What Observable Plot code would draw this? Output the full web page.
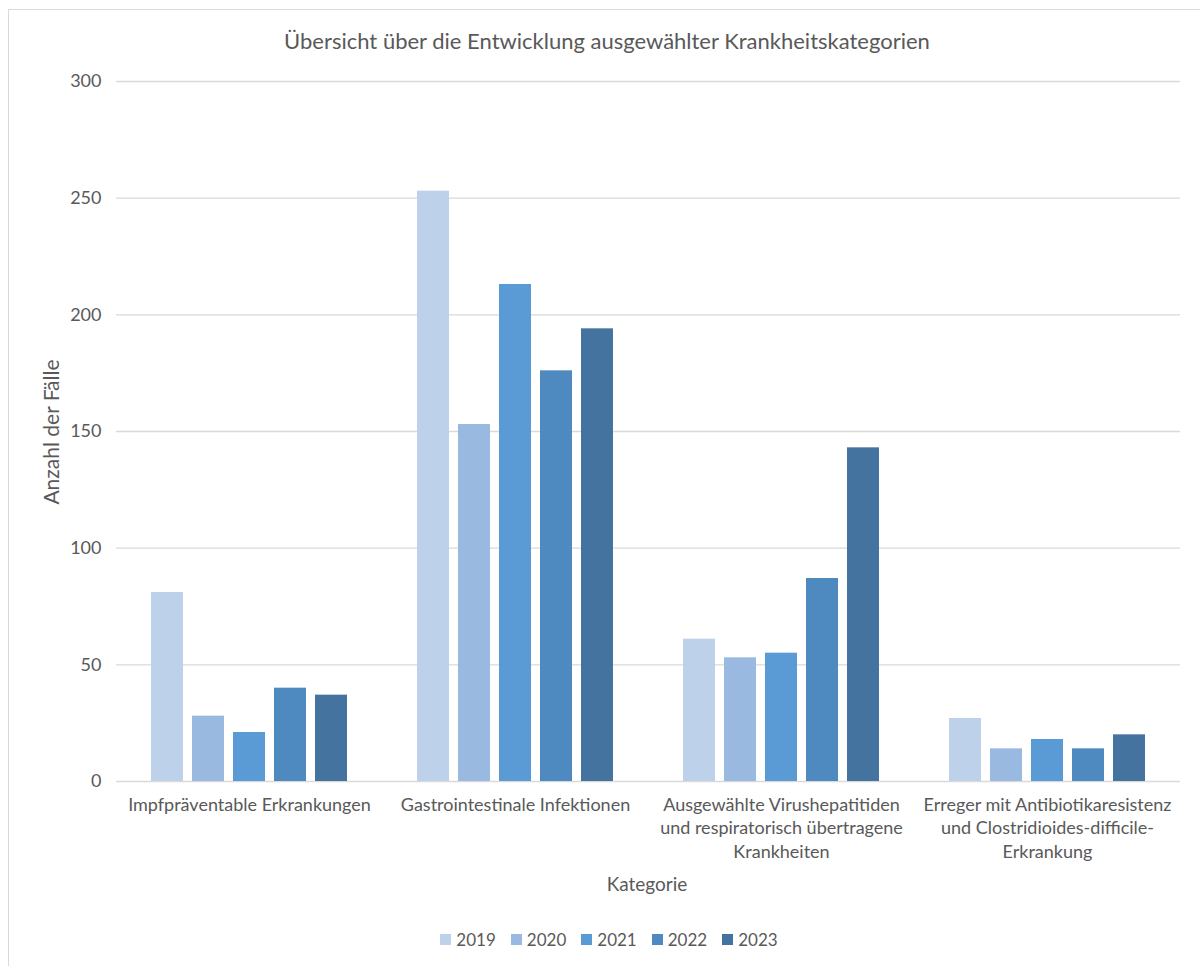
<!DOCTYPE html>
<html>
<head>
<meta charset="utf-8">
<script src="https://cdn.jsdelivr.net/npm/d3@7"></script>
<script src="https://cdn.jsdelivr.net/npm/@observablehq/plot@0.6"></script>
<style>
  html, body { margin: 0; padding: 0; background: #fff; }
  #wrap { position: relative; width: 1200px; height: 966px; overflow: hidden; font-family: Lato, "Open Sans", sans-serif; color: #595959; }
  #frame { position: absolute; left: 8px; top: 9px; width: 1300px; height: 1000px; border-left: 1.5px solid #d9d9d9; border-top: 1.5px solid #d9d9d9; }
  #title { position: absolute; top: 27px; left: 0; width: 1214px; text-align: center; font-size: 22px; line-height: 28px; }
  #chart { position: absolute; top: 0; left: 0; }
  #ylabel { position: absolute; left: 50px; top: 432px; transform: translate(-50%, -50%) rotate(-90deg); font-size: 21px; white-space: nowrap; }
  #xlabel { position: absolute; top: 872px; left: 647px; transform: translateX(-50%); font-size: 19px; white-space: nowrap; }
  #legend { position: absolute; top: 929px; left: 0; width: 1218px; display: flex; justify-content: center; font-size: 17px; }
  .item { display: flex; align-items: center; margin: 0 7.5px; }
  .sw { width: 11px; height: 11px; margin-right: 5px; }
</style>
</head>
<body>
<div id="wrap">
  <div id="frame"></div>
  <div id="chart"></div>
  <div id="title">Übersicht über die Entwicklung ausgewählter Krankheitskategorien</div>
  <div id="ylabel">Anzahl der Fälle</div>
  <div id="xlabel">Kategorie</div>
  <div id="legend"></div>
</div>
<script>
const categories = [
  "Impfpräventable Erkrankungen",
  "Gastrointestinale Infektionen",
  "Ausgewählte Virushepatitiden und respiratorisch übertragene Krankheiten",
  "Erreger mit Antibiotikaresistenz und Clostridioides-difficile-Erkrankung"
];
const categoryLabels = [
  "Impfpräventable Erkrankungen",
  "Gastrointestinale Infektionen",
  "Ausgewählte Virushepatitiden\nund respiratorisch übertragene\nKrankheiten",
  "Erreger mit Antibiotikaresistenz\nund Clostridioides-difficile-\nErkrankung"
];
const years = ["2019", "2020", "2021", "2022", "2023"];
const v2019 = [81, 253, 61, 27];
const v2020 = [28, 153, 53, 14];
const v2021 = [21, 213, 55, 18];
const v2022 = [40, 176, 87, 14];
const v2023 = [37, 194, 143, 20];
const colors = ["#bdd1ea", "#9ab9e0", "#5b9bd5", "#4e8abf", "#43739e"];
const yTicks = [0, 50, 100, 150, 200, 250, 300];

const series = [v2019, v2020, v2021, v2022, v2023];
const data = [];
categories.forEach((c, i) => {
  years.forEach((y, j) => data.push({category: c, year: y, value: series[j][i]}));
});
const labelOf = new Map(categories.map((c, i) => [c, categoryLabels[i]]));

const plot = Plot.plot({
  width: 1200,
  height: 900,
  marginTop: 81,
  marginLeft: 116,
  marginRight: 20,
  marginBottom: 119,
  style: {fontFamily: "Lato, 'Open Sans', sans-serif", fontSize: "17px", color: "#595959", background: "transparent"},
  fx: {domain: categories, padding: 0, paddingOuter: 0},
  x: {domain: years, paddingInner: 0.22, paddingOuter: 0.82, axis: null},
  y: {domain: [0, 300]},
  color: {domain: years, range: colors},
  marks: [
    Plot.gridY(yTicks, {stroke: "#d9d9d9", strokeOpacity: 1, strokeWidth: 1.4}),
    Plot.barY(data, {fx: "category", x: "year", y: "value", fill: "year"}),
    Plot.axisY(yTicks, {tickSize: 0, tickPadding: 15, fontSize: 18, label: null}),
    Plot.axisFx({anchor: "bottom", tickSize: 0, tickPadding: 12, fontSize: 18, lineHeight: 1.33, tickFormat: d => labelOf.get(d), label: null})
  ]
});
document.getElementById("chart").appendChild(plot);

const legend = document.getElementById("legend");
years.forEach((y, i) => {
  const it = document.createElement("div");
  it.className = "item";
  it.innerHTML = `<span class="sw" style="background:${colors[i]}"></span><span>${y}</span>`;
  legend.appendChild(it);
});
</script>
</body>
</html>
